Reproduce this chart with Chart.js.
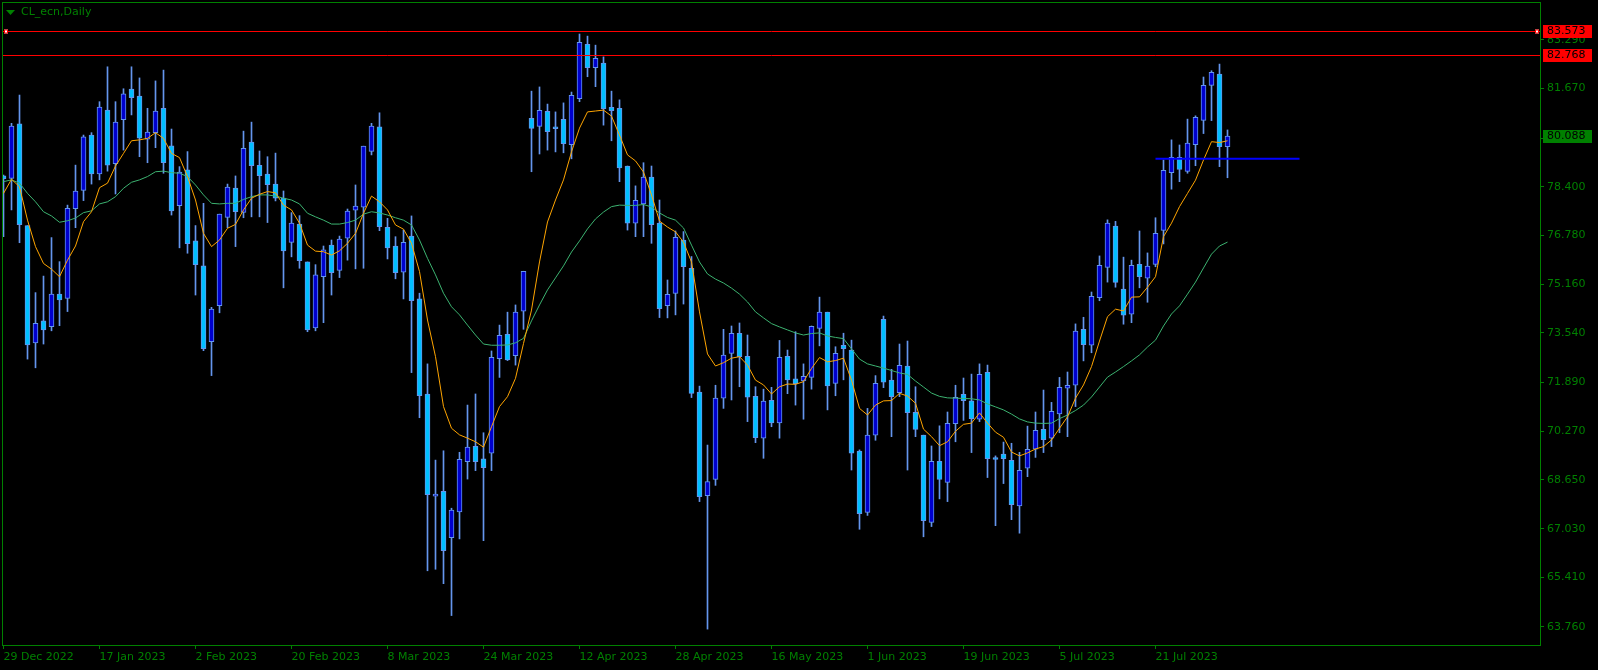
<!DOCTYPE html>
<html>
<head>
<meta charset="utf-8">
<script src="https://cdn.jsdelivr.net/npm/chart.js@4.4.1/dist/chart.umd.min.js"></script>
<style>
  html, body { margin: 0; padding: 0; background: #000; }
  #wrap { width: 1598px; height: 670px; }
</style>
</head>
<body>
<div id="wrap"><canvas id="chart" width="1598" height="670"></canvas></div>
<script>
// CL_ecn daily bars, 29 Dec 2022 .. 3 Aug 2023
const opens = [78.76,78.68,80.49,77.11,73.21,73.94,73.75,74.83,74.69,77.67,78.28,80.12,78.83,80.95,79.17,80.63,81.65,81.42,79.98,80.20,
  81.01,79.76,77.77,78.96,76.60,75.77,73.25,74.45,77.38,78.36,77.55,79.89,79.11,78.82,78.49,78.02,76.55,77.16,75.90,73.71,
  75.41,76.46,75.62,76.69,77.62,77.72,79.58,80.39,77.05,76.43,75.56,76.76,74.67,71.51,68.11,68.27,66.73,67.59,69.26,69.77,
  69.35,69.54,72.68,73.49,72.78,74.26,80.68,80.41,80.91,80.38,80.64,79.80,81.33,83.14,82.36,82.51,81.04,81.01,79.09,77.19,
  77.83,78.72,77.19,74.45,74.85,76.63,75.69,71.57,68.13,68.67,71.37,72.86,73.53,72.76,71.43,70.04,71.30,70.55,72.76,72.01,
  71.94,72.06,73.69,74.23,71.86,73.13,72.97,69.61,67.57,70.14,73.99,71.97,71.55,72.44,70.90,70.14,67.24,69.27,68.57,70.52,
  71.50,71.28,70.67,72.23,69.34,69.51,69.30,67.79,69.04,69.67,70.33,70.04,70.85,71.70,71.80,73.66,73.13,74.71,75.72,77.09,
  75.00,74.16,75.82,75.36,75.82,76.95,78.87,79.38,78.91,79.80,80.61,81.77,82.15,79.73];
const highs = [78.79,80.51,81.45,77.11,74.88,75.43,76.71,75.91,77.79,79.12,80.12,80.20,81.23,82.39,81.23,81.66,82.39,82.02,81.01,81.92,
  82.28,80.32,79.07,79.57,77.11,77.85,74.39,77.49,78.49,78.76,80.25,80.55,79.59,79.40,79.52,78.26,77.54,77.44,75.90,75.81,
  76.43,76.63,76.76,77.66,78.46,79.75,80.51,80.86,77.35,76.74,76.96,77.43,74.86,72.51,69.31,69.62,67.71,69.57,71.14,71.51,
  70.22,72.94,73.80,74.23,74.47,75.59,81.58,81.72,81.15,80.89,81.19,81.55,83.48,83.41,83.11,82.72,81.58,81.29,79.09,78.43,
  79.20,79.09,77.96,75.30,76.93,76.91,76.08,71.77,69.81,71.80,73.66,73.77,73.87,73.47,71.75,71.67,71.73,73.29,72.97,73.58,
  72.51,73.77,74.73,74.23,73.08,73.53,73.30,69.65,71.03,72.12,74.10,72.33,73.17,73.27,71.75,70.14,69.78,70.45,70.91,71.80,
  72.04,72.17,72.51,72.47,69.45,69.91,69.87,69.57,70.44,70.91,71.64,71.23,72.06,72.24,73.84,74.06,74.90,76.10,77.30,77.25,
  76.06,75.96,76.93,76.20,77.37,79.29,79.96,79.79,80.65,80.76,82.05,82.26,82.48,80.29];
const lows = [76.74,77.63,76.54,72.67,72.38,73.17,73.61,73.78,74.25,77.04,77.94,78.49,78.63,78.92,78.16,79.62,80.79,79.40,79.20,79.70,
  78.85,77.46,76.37,76.19,74.80,72.95,72.12,74.21,77.04,76.41,77.37,77.40,77.40,77.21,77.93,75.04,76.07,75.69,73.58,73.61,
  73.88,74.80,75.38,75.96,75.67,75.69,79.46,76.94,76.00,75.34,74.67,72.22,70.72,65.63,65.68,65.20,64.14,66.69,68.68,68.96,
  66.63,68.96,72.06,72.62,72.47,73.66,78.90,79.49,79.62,79.56,79.53,79.33,81.23,82.06,81.73,80.45,79.93,78.57,76.96,76.74,
  76.74,76.52,74.05,74.04,74.14,74.50,71.39,67.93,63.69,68.47,71.03,71.31,71.75,70.59,69.89,69.37,70.42,70.04,71.52,71.14,
  70.67,71.67,73.11,70.98,71.45,71.98,68.98,67.01,67.47,69.97,71.72,70.09,71.42,68.98,70.09,66.76,67.10,68.02,67.93,69.92,
  70.63,69.56,70.59,68.73,67.13,68.53,67.33,66.88,68.76,69.40,69.56,69.76,70.22,70.09,71.09,72.61,72.88,74.61,75.23,75.06,
  73.83,73.88,75.04,74.56,75.74,76.50,78.32,78.57,78.85,79.10,80.17,80.60,79.07,78.70];
const closes = [78.67,80.42,77.14,73.14,73.86,73.64,74.83,74.64,77.68,78.26,80.06,78.83,81.05,79.12,80.55,81.49,81.36,80.02,80.22,80.92,
  79.20,77.60,78.89,76.51,75.81,73.02,74.33,77.49,78.39,77.57,79.68,79.10,78.77,78.47,78.02,76.27,77.19,75.94,73.64,75.47,
  76.30,75.54,76.66,77.59,77.76,79.75,80.42,77.07,76.37,75.54,76.55,74.61,71.45,68.16,68.17,66.30,67.65,69.34,69.74,69.26,
  69.06,72.73,73.46,72.64,74.23,75.59,80.34,80.94,80.23,80.33,79.83,81.44,83.20,82.36,82.67,81.00,80.93,79.03,77.19,77.95,
  78.72,77.14,74.35,74.82,76.72,75.74,71.53,68.09,68.60,71.37,72.80,73.53,72.75,71.40,70.06,71.27,70.55,72.73,71.98,71.85,
  72.10,73.76,74.23,71.78,72.86,73.02,69.54,67.53,70.14,71.86,71.90,71.42,72.46,70.89,70.33,67.30,69.27,68.67,70.53,71.40,
  71.29,70.69,72.16,69.36,69.33,69.36,67.83,68.97,69.67,70.30,69.99,70.93,71.73,71.80,73.60,73.15,74.76,75.79,77.19,75.22,
  74.13,75.79,75.41,75.76,76.85,78.95,79.38,78.98,79.85,80.71,81.77,82.21,79.73,80.088];

// moving averages as drawn on the chart (orange fast, green slow)
const maFast = [78.18,78.65,78.40,77.29,76.41,75.85,75.66,75.41,75.96,76.43,77.24,77.57,78.37,78.52,79.09,79.51,79.93,79.96,80.01,80.20,
  80.01,79.51,79.37,78.74,77.96,76.85,76.41,76.63,77.02,77.15,77.63,78.02,78.15,78.24,78.20,77.79,77.63,77.19,76.46,76.26,
  76.24,76.13,76.27,76.52,76.85,77.52,78.09,77.90,77.63,77.13,76.99,76.52,75.58,73.97,72.75,71.09,70.37,70.15,70.04,69.92,
  69.74,70.42,71.09,71.42,72.03,73.19,74.30,75.90,77.23,77.96,78.63,79.56,80.35,80.89,80.92,80.95,80.75,80.12,79.46,79.26,
  78.89,78.13,77.26,77.06,76.90,76.56,75.90,74.24,72.84,72.44,72.55,72.70,72.75,72.47,71.97,71.81,71.51,71.75,71.84,71.83,
  71.92,72.36,72.72,72.58,72.62,72.70,71.97,71.03,70.81,71.14,71.28,71.29,71.53,71.44,71.20,70.34,70.09,69.79,69.92,70.27,
  70.50,70.54,70.88,70.54,70.24,70.07,69.58,69.45,69.55,69.68,69.76,69.98,70.37,70.75,71.37,71.81,72.42,73.27,74.08,74.33,
  74.27,74.73,74.74,75.06,75.41,76.74,77.19,77.74,78.18,78.62,79.29,79.90,79.87,79.93];
const maSlow = [78.57,78.63,78.52,78.18,77.90,77.57,77.43,77.22,77.27,77.36,77.54,77.60,77.83,77.90,78.07,78.35,78.55,78.63,78.74,78.90,
  78.92,78.87,78.85,78.74,78.46,78.13,77.85,77.83,77.85,77.85,77.98,78.07,78.13,78.13,78.09,78.02,77.96,77.83,77.52,77.40,
  77.29,77.16,77.16,77.21,77.29,77.49,77.57,77.53,77.46,77.37,77.29,77.13,76.63,76.02,75.47,74.86,74.41,74.14,73.80,73.47,
  73.17,73.13,73.13,73.14,73.21,73.36,73.94,74.47,74.97,75.37,75.77,76.23,76.60,77.00,77.33,77.56,77.74,77.79,77.78,77.78,
  77.81,77.73,77.53,77.38,77.29,77.03,76.46,75.90,75.50,75.33,75.20,75.03,74.83,74.57,74.24,74.04,73.85,73.74,73.64,73.54,
  73.47,73.52,73.54,73.44,73.39,73.35,73.01,72.67,72.51,72.44,72.37,72.29,72.21,72.16,71.94,71.74,71.54,71.43,71.38,71.37,
  71.36,71.35,71.31,71.18,71.08,70.98,70.84,70.68,70.58,70.54,70.53,70.54,70.69,70.81,70.96,71.14,71.41,71.74,72.07,72.24,
  72.42,72.61,72.81,73.07,73.30,73.77,74.17,74.44,74.83,75.23,75.70,76.16,76.43,76.56];

// axis labels: one date every 12 bars
const dateLabels = ['29 Dec 2022','17 Jan 2023','2 Feb 2023','20 Feb 2023','8 Mar 2023','24 Mar 2023','12 Apr 2023',
  '28 Apr 2023','16 May 2023','1 Jun 2023','19 Jun 2023','5 Jul 2023','21 Jul 2023'];
const dateStep = 12;
const priceTicks = [63.760,65.410,67.030,68.650,70.270,71.890,73.540,75.160,76.780,78.400,80.020,81.670,83.290];

// objects on the chart
const hLevels = [83.573, 82.768];
const trendLevel = 79.33;
const trendBars = [144, 162];
const lastPrice = closes[closes.length - 1];

const fg = '#008000';
const font11 = { family: 'DejaVu Sans', size: 11 };

const bodyData = opens.map((o, i) => ({ x: i, y: [o, closes[i]] }));
const wickData = lows.map((l, i) => ({ x: i, y: [l, highs[i]] }));
const bodyColors = opens.map((o, i) => closes[i] >= o ? '#0000CD' : '#00BFFF');

function priceTag(ctx, text, py, bg) {
    ctx.fillStyle = bg;
    ctx.fillRect(1543, Math.round(py) - 6, 49, 13);
    ctx.fillStyle = '#000';
    ctx.font = '11px "DejaVu Sans"';
    ctx.textAlign = 'left';
    ctx.textBaseline = 'middle';
    ctx.fillText(text, 1547, Math.round(py) + 0.5);
}

const overlay = {
    id: 'overlay',
    beforeDraw(chart) {
        const ctx = chart.ctx;
        ctx.save();
        ctx.fillStyle = '#000';
        ctx.fillRect(0, 0, chart.width, chart.height);
        ctx.restore();
    },
    afterDraw(chart) {
        const { ctx, chartArea: a, scales } = chart;
        const y = scales.y;
        ctx.save();
        // frame
        ctx.strokeStyle = fg;
        ctx.lineWidth = 1;
        ctx.strokeRect(a.left + 0.5, a.top + 0.5, a.right - a.left - 1, a.bottom - a.top - 1);

        // horizontal red levels
        hLevels.forEach((lv, k) => {
            const py = Math.round(y.getPixelForValue(lv)) + 0.5;
            ctx.strokeStyle = '#ff0000';
            ctx.beginPath();
            ctx.moveTo(a.left + 1, py);
            ctx.lineTo(a.right - 1, py);
            ctx.stroke();
            if (k === 0) {
                [a.left + 2, a.right - 6].forEach(sx => {
                    ctx.fillStyle = '#fff';
                    ctx.fillRect(sx, py - 2, 4, 4);
                    ctx.strokeStyle = '#ff0000';
                    ctx.strokeRect(sx + 0.5, py - 1.5, 3, 3);
                });
            }
        });
        hLevels.forEach(lv => priceTag(ctx, lv.toFixed(3), y.getPixelForValue(lv), '#ff0000'));
        priceTag(ctx, lastPrice.toFixed(3), y.getPixelForValue(lastPrice), fg);

        // title
        ctx.fillStyle = fg;
        ctx.beginPath();
        ctx.moveTo(6, 10);
        ctx.lineTo(15, 10);
        ctx.lineTo(10.5, 15);
        ctx.closePath();
        ctx.fill();
        ctx.font = '11px "DejaVu Sans"';
        ctx.textAlign = 'left';
        ctx.textBaseline = 'middle';
        ctx.fillText('CL_ecn,Daily', 21, 12);
        ctx.restore();
    }
};

const xMin = -0.1875;
const xMax = xMin + 1539 / 8;

new Chart(document.getElementById('chart').getContext('2d'), {
    type: 'bar',
    data: {
        datasets: [
            {
                type: 'line',
                label: 'trend',
                data: trendBars.map(b => ({ x: b, y: trendLevel })),
                borderColor: '#0000FF',
                borderWidth: 2,
                pointRadius: 0,
                order: 0
            },
            {
                type: 'line',
                label: 'MA fast',
                data: maFast.map((v, i) => ({ x: i, y: v })),
                borderColor: '#FFA500',
                borderWidth: 1,
                pointRadius: 0,
                tension: 0,
                order: 1
            },
            {
                type: 'line',
                label: 'MA slow',
                data: maSlow.map((v, i) => ({ x: i, y: v })),
                borderColor: '#3CB371',
                borderWidth: 1,
                pointRadius: 0,
                tension: 0,
                order: 2
            },
            {
                label: 'body',
                data: bodyData,
                backgroundColor: bodyColors,
                borderColor: '#6495ED',
                borderWidth: 1,
                borderSkipped: false,
                barThickness: 5,
                minBarLength: 2,
                grouped: false,
                order: 3
            },
            {
                label: 'wick',
                data: wickData,
                backgroundColor: '#6495ED',
                borderWidth: 0,
                barThickness: 1,
                grouped: false,
                order: 4
            }
        ]
    },
    options: {
        responsive: false,
        animation: false,
        devicePixelRatio: 1,
        layout: { padding: { left: 2, top: 2, right: 0, bottom: 0 } },
        plugins: {
            legend: { display: false },
            tooltip: { enabled: false }
        },
        scales: {
            x: {
                type: 'linear',
                min: xMin,
                max: xMax,
                offset: false,
                grid: { display: true, offset: false, drawOnChartArea: false, drawTicks: true, tickLength: 3, color: fg },
                border: { display: false },
                afterBuildTicks: scale => {
                    scale.ticks = dateLabels.map((d, k) => ({ value: k * dateStep }));
                },
                afterFit: scale => {
                    scale.height = 24;
                    scale.paddingLeft = 0;
                    scale.paddingRight = 0;
                },
                ticks: {
                    autoSkip: false,
                    maxRotation: 0,
                    align: 'start',
                    padding: 2,
                    color: fg,
                    font: font11,
                    callback: (v) => dateLabels[Math.round(v / dateStep)]
                }
            },
            y: {
                type: 'linear',
                position: 'right',
                min: 63.128,
                max: 84.545,
                grid: { display: true, drawOnChartArea: false, drawTicks: true, tickLength: 3, color: fg },
                border: { display: false },
                afterBuildTicks: scale => {
                    scale.ticks = priceTicks.map(v => ({ value: v }));
                },
                afterFit: scale => {
                    scale.width = 57;
                    scale.paddingTop = 0;
                    scale.paddingBottom = 0;
                },
                ticks: {
                    autoSkip: false,
                    padding: 3,
                    color: fg,
                    font: font11,
                    callback: v => v.toFixed(3)
                }
            }
        }
    },
    plugins: [overlay]
});
</script>
</body>
</html>
